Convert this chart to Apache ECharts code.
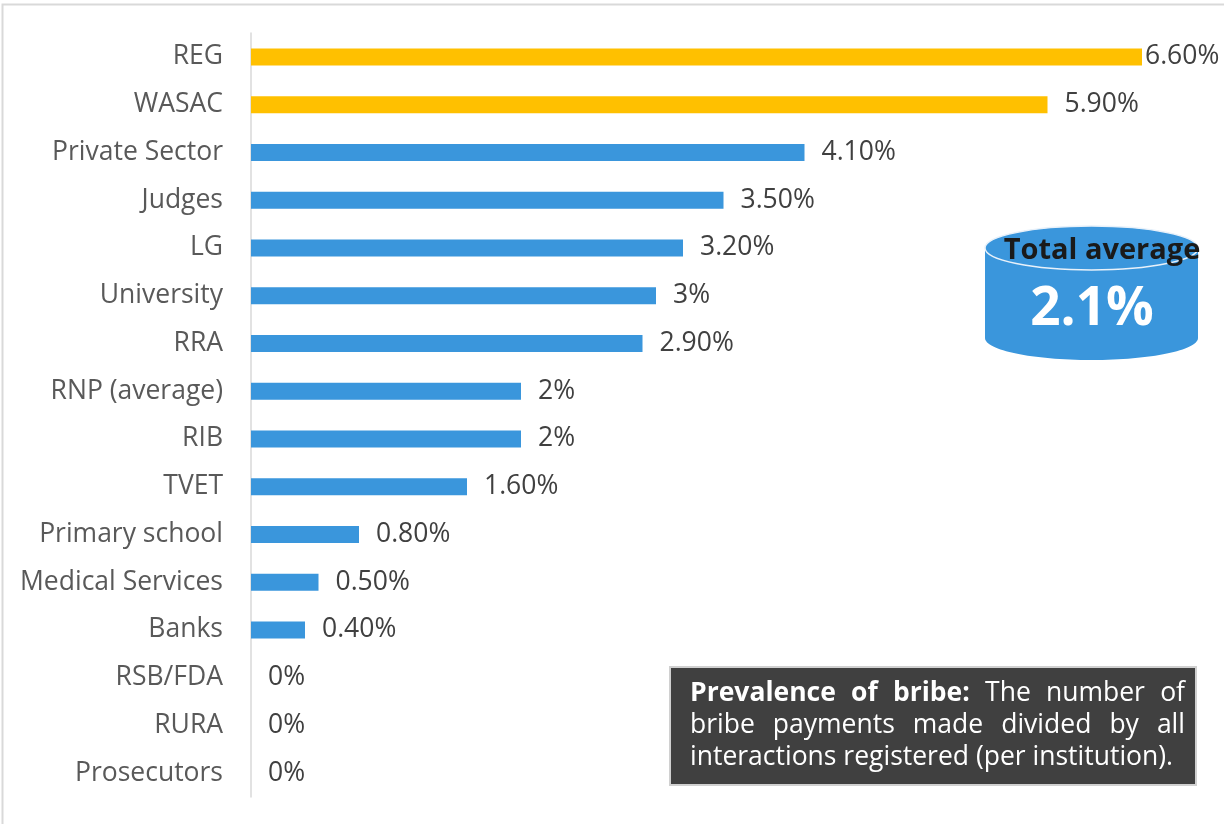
<!DOCTYPE html>
<html>
<head>
<meta charset="utf-8">
<script src="https://cdn.jsdelivr.net/npm/echarts@6/dist/echarts.min.js"></script>
<style>
  html, body { margin: 0; padding: 0; background: #fff; }
  #main { width: 1224px; height: 824px; }
</style>
</head>
<body>
<div id="main"></div>
<script>
// 数据
var categories = ['REG', 'WASAC', 'Private Sector', 'Judges', 'LG', 'University', 'RRA',
    'RNP (average)', 'RIB', 'TVET', 'Primary school', 'Medical Services', 'Banks',
    'RSB/FDA', 'RURA', 'Prosecutors'];
var values = [6.6, 5.9, 4.1, 3.5, 3.2, 3, 2.9, 2, 2, 1.6, 0.8, 0.5, 0.4, 0, 0, 0];
var valueLabels = ['6.60%', '5.90%', '4.10%', '3.50%', '3.20%', '3%', '2.90%', '2%', '2%',
    '1.60%', '0.80%', '0.50%', '0.40%', '0%', '0%', '0%'];
var totalAverage = '2.1%';
var noteBold = ['Prevalence', 'of', 'bribe:'];
var noteLine1 = ['The', 'number', 'of'];
var noteLine2 = ['bribe', 'payments', 'made', 'divided', 'by', 'all'];
var noteLine3 = 'interactions registered (per institution).';

var FONT = '"Open Sans", "Noto Sans", sans-serif';

// 柱子数据
var barData = values.map(function (v, i) {
    return {
        value: v,
        itemStyle: { color: i < 2 ? '#FFC000' : '#3A96DC' },
        label: { distance: i === 0 ? 3 : 17 }
    };
});

// 两端对齐文字
var measureCtx = document.createElement('canvas').getContext('2d');
function justifyLine(words, boldFlags, x0, x1, y, size) {
    var widths = words.map(function (w, i) {
        measureCtx.font = (boldFlags[i] ? 'bold ' : '') + size + 'px "Open Sans"';
        return measureCtx.measureText(w).width;
    });
    var total = widths.reduce(function (a, b) { return a + b; }, 0);
    var gap = (x1 - x0 - total) / (words.length - 1);
    var x = x0, els = [];
    words.forEach(function (w, i) {
        els.push({
            type: 'text', z: 20,
            style: {
                text: w, x: x, y: y, verticalAlign: 'middle', fill: '#fff',
                font: (boldFlags[i] ? 'bold ' : '') + size + 'px ' + FONT
            }
        });
        x += widths[i] + gap;
    });
    return els;
}

var noteSize = 26.5;
var line1Words = noteBold.concat(noteLine1);
var line1Bold = line1Words.map(function (w, i) { return i < noteBold.length; });
var noteEls = []
    .concat(justifyLine(line1Words, line1Bold, 690, 1185, 693, noteSize))
    .concat(justifyLine(noteLine2, noteLine2.map(function () { return false; }), 690, 1185, 725, noteSize))
    .concat([{
        type: 'text', z: 20,
        style: {
            text: noteLine3, x: 690, y: 757, verticalAlign: 'middle', fill: '#fff',
            font: noteSize + 'px ' + FONT
        }
    }]);

var option = {
    animation: false,
    backgroundColor: '#fff',
    grid: { left: 251, right: 82, top: 33, bottom: 27 },
    xAxis: {
        type: 'value', min: 0, max: 6.6,
        show: false
    },
    yAxis: {
        type: 'category',
        data: categories,
        inverse: true,
        axisLine: { lineStyle: { color: '#D9D9D9', width: 1.5 } },
        axisTick: { show: false },
        axisLabel: { margin: 28, fontSize: 26.5, color: '#595959', fontFamily: FONT }
    },
    series: [{
        type: 'bar',
        data: barData,
        barWidth: 17,
        label: {
            show: true,
            position: 'right',
            fontSize: 26.5,
            color: '#404040',
            fontFamily: FONT,
            formatter: function (p) { return valueLabels[p.dataIndex]; }
        }
    }],
    graphic: [
        // 外框
        {
            type: 'rect', z: 1, silent: true,
            shape: { x: 2.5, y: 4.5, width: 1260, height: 860 },
            style: { fill: 'none', stroke: '#D9D9D9', lineWidth: 2 }
        },
        // 圆柱
        {
            type: 'ellipse', z: 10,
            shape: { cx: 1091.5, cy: 338, rx: 106.5, ry: 22 },
            style: { fill: '#3A96DC' }
        },
        {
            type: 'rect', z: 10,
            shape: { x: 985, y: 248, width: 213, height: 90 },
            style: { fill: '#3A96DC' }
        },
        {
            type: 'ellipse', z: 11,
            shape: { cx: 1091.5, cy: 248, rx: 106.5, ry: 22 },
            style: { fill: '#3A96DC', stroke: '#E8F1FA', lineWidth: 1.5 }
        },
        {
            type: 'text', z: 12,
            style: {
                text: 'Total average', x: 1102, y: 251, align: 'center', verticalAlign: 'middle',
                fill: '#1A1A1A', font: 'bold 29px ' + FONT
            }
        },
        {
            type: 'text', z: 12,
            style: {
                text: totalAverage, x: 1092, y: 310, align: 'center', verticalAlign: 'middle',
                fill: '#fff', font: 'bold 53px ' + FONT
            }
        },
        // 说明框
        {
            type: 'rect', z: 15,
            shape: { x: 670, y: 667, width: 526, height: 118 },
            style: { fill: '#404040', stroke: '#D0D0D0', lineWidth: 2 }
        }
    ].concat(noteEls)
};

window.onload = function () {
    var chart = echarts.init(document.getElementById('main'));
    chart.setOption(option);
};
</script>
</body>
</html>
